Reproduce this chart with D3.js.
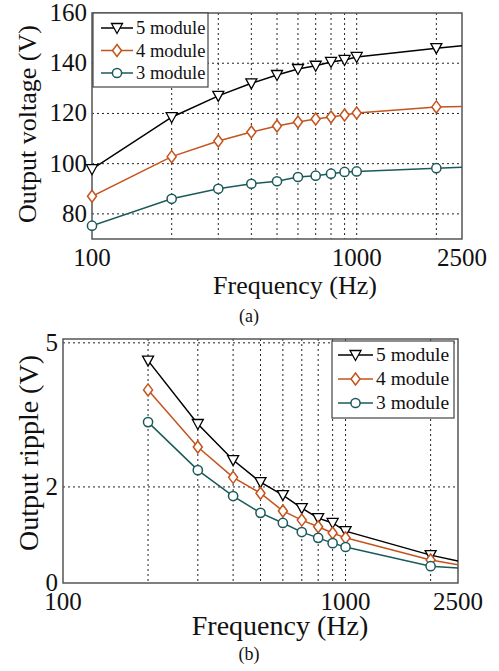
<!DOCTYPE html>
<html>
<head>
<meta charset="utf-8">
<script src="https://cdn.jsdelivr.net/npm/d3@7"></script>
<style>
  body { margin: 0; background: #fff; }
</style>
</head>
<body>
<div id="chart"></div>
<script>
// ---- data ----
const freq = [100, 200, 300, 400, 500, 600, 700, 800, 900, 1000, 2000, 2500];
const gridFreq = [200, 300, 400, 500, 600, 700, 800, 900, 1000, 2000];
const xTicks = [100, 1000, 2500];
const seriesNames = ["5 module", "4 module", "3 module"];

// (a) output voltage
const voltage5 = [97.8, 118.5, 127, 132, 135.3, 137.7, 139, 140.5, 141.3, 142.5, 146, 147];
const voltage4 = [87, 102.8, 109, 112.6, 115, 116.6, 117.8, 118.6, 119.4, 120.2, 122.6, 122.8];
const voltage3 = [75.3, 86, 90, 92, 93, 94.7, 95.2, 96, 96.7, 96.9, 98.2, 98.6];
const voltageTicks = [80, 100, 120, 140, 160];

// (b) output ripple
const rippleFreq = [200, 300, 400, 500, 600, 700, 800, 900, 1000, 2000, 2500];
const ripple5 = [4.63, 3.31, 2.56, 2.1, 1.83, 1.56, 1.35, 1.25, 1.08, 0.58, 0.46];
const ripple4 = [4.02, 2.83, 2.2, 1.87, 1.5, 1.31, 1.17, 1.04, 0.94, 0.48, 0.38];
const ripple3 = [3.35, 2.35, 1.81, 1.46, 1.25, 1.06, 0.94, 0.83, 0.75, 0.35, 0.31];
const rippleTicks = [0, 2, 5];

const colors = ["#000000", "#c4531c", "#1b5a5a"];
const symbols = ["tri", "diamond", "circle"];
const FONT = "'Liberation Serif', 'DejaVu Serif', serif";

const svg = d3.select("#chart").append("svg")
    .attr("width", 499)
    .attr("height", 671)
    .attr("font-family", FONT);

// marker drawing
function drawMarker(g, type, x, y, color) {
    if (type === "tri") {
        g.append("path")
            .attr("d", `M${x - 5.5},${y - 4.5}L${x + 5.5},${y - 4.5}L${x},${y + 5.5}Z`)
            .attr("fill", "#fff").attr("stroke", color).attr("stroke-width", 1.3);
    } else if (type === "diamond") {
        g.append("path")
            .attr("d", `M${x},${y - 6}L${x + 4.5},${y}L${x},${y + 6}L${x - 4.5},${y}Z`)
            .attr("fill", "#fff").attr("stroke", color).attr("stroke-width", 1.5);
    } else {
        g.append("circle")
            .attr("cx", x).attr("cy", y).attr("r", 4.6)
            .attr("fill", "#fff").attr("stroke", color).attr("stroke-width", 1.5);
    }
}

function addText(g) {
    return g.append("text")
        .attr("font-family", FONT)
        .attr("fill", "#111");
}

function drawPanel(opt) {
    const g = svg.append("g");
    const x = d3.scaleLog().domain([100, 2500]).range([opt.left, opt.right]);
    const y = d3.scaleLinear().domain(opt.yDomain).range([opt.bottom, opt.top]);

    // grid
    g.selectAll(".vgrid").data(gridFreq).enter().append("line")
        .attr("x1", d => x(d)).attr("x2", d => x(d))
        .attr("y1", opt.top).attr("y2", opt.bottom)
        .attr("stroke", "#222").attr("stroke-width", 1).attr("stroke-dasharray", "2,3");
    g.selectAll(".hgrid").data(opt.yTicks.filter(d => d > opt.yDomain[0] && y(d) > opt.top + 1)).enter().append("line")
        .attr("x1", opt.left).attr("x2", opt.right)
        .attr("y1", d => y(d)).attr("y2", d => y(d))
        .attr("stroke", "#222").attr("stroke-width", 1).attr("stroke-dasharray", "2,3");

    // frame
    g.append("rect")
        .attr("x", opt.left).attr("y", opt.top)
        .attr("width", opt.right - opt.left).attr("height", opt.bottom - opt.top)
        .attr("fill", "none").attr("stroke", "#555").attr("stroke-width", 1.5);

    // tick labels
    xTicks.forEach(d => {
        addText(g).attr("x", x(d)).attr("y", opt.bottom + opt.xTickDy)
            .attr("text-anchor", "middle").attr("font-size", 25)
            .text(d);
    });
    opt.yTicks.forEach(d => {
        addText(g).attr("x", opt.left - opt.yTickDx).attr("y", y(d) + 8)
            .attr("text-anchor", "end").attr("font-size", 25)
            .text(d);
    });

    // axis labels
    addText(g)
        .attr("x", opt.xLabelX).attr("y", opt.xLabelY)
        .attr("text-anchor", "middle").attr("font-size", opt.labelSize)
        .text("Frequency (Hz)");
    addText(g)
        .attr("transform", `translate(${opt.yLabelX},${opt.yLabelY}) rotate(-90)`)
        .attr("text-anchor", "middle").attr("font-size", opt.labelSize)
        .text(opt.yLabel);

    // series
    const clipId = "clip" + opt.id;
    g.append("clipPath").attr("id", clipId).append("rect")
        .attr("x", opt.left).attr("y", opt.top)
        .attr("width", opt.right - opt.left).attr("height", opt.bottom - opt.top);

    const line = d3.line().x(d => x(d[0])).y(d => y(d[1]));
    opt.series.forEach((vals, i) => {
        const pts = opt.freqs.map((f, j) => [f, vals[j]]);
        g.append("path").datum(pts)
            .attr("d", line)
            .attr("fill", "none").attr("stroke", colors[i]).attr("stroke-width", 1.5)
            .attr("clip-path", `url(#${clipId})`);
        // no marker on the end point at the axis edge
        pts.slice(0, -1).forEach(p => drawMarker(g, symbols[i], x(p[0]), y(p[1]), colors[i]));
    });

    // legend
    const lg = g.append("g");
    lg.append("rect")
        .attr("x", opt.legend.x).attr("y", opt.legend.y)
        .attr("width", opt.legend.w).attr("height", opt.legend.h)
        .attr("fill", "#fff").attr("stroke", "#444").attr("stroke-width", 1.2);
    seriesNames.forEach((name, i) => {
        const ly = opt.legend.y + opt.legend.first + i * opt.legend.step;
        const lx = opt.legend.x + opt.legend.pad;
        lg.append("line")
            .attr("x1", lx).attr("x2", lx + opt.legend.len)
            .attr("y1", ly).attr("y2", ly)
            .attr("stroke", colors[i]).attr("stroke-width", 1.5);
        drawMarker(lg, symbols[i], lx + opt.legend.len / 2, ly, colors[i]);
        addText(lg)
            .attr("x", lx + opt.legend.len + 3).attr("y", ly + 6)
            .attr("font-size", opt.legend.font)
            .text(name);
    });

    // caption
    addText(g)
        .attr("x", 249).attr("y", opt.captionY)
        .attr("text-anchor", "middle").attr("font-size", 18)
        .text(opt.caption);
}

drawPanel({
    id: "a",
    left: 92, right: 462, top: 13, bottom: 239,
    yDomain: [70, 160], yTicks: voltageTicks,
    freqs: freq, series: [voltage5, voltage4, voltage3],
    xTickDy: 27, yTickDx: 5,
    xLabelX: 295, xLabelY: 294, yLabelX: 36, yLabelY: 124, labelSize: 26,
    yLabel: "Output voltage (V)",
    legend: {x: 93, y: 13, w: 115, h: 74, first: 15, step: 22.5, pad: 8, len: 32, font: 18.5},
    caption: "(a)", captionY: 322
});

drawPanel({
    id: "b",
    left: 63, right: 458, top: 339, bottom: 583,
    yDomain: [0, 5.08], yTicks: rippleTicks,
    freqs: rippleFreq, series: [ripple5, ripple4, ripple3],
    xTickDy: 27, yTickDx: 5,
    xLabelX: 280, xLabelY: 635, yLabelX: 38, yLabelY: 453, labelSize: 28,
    yLabel: "Output ripple (V)",
    legend: {x: 332, y: 341, w: 122, h: 77, first: 14, step: 24, pad: 6, len: 35, font: 19.5},
    caption: "(b)", captionY: 660
});
</script>
</body>
</html>
